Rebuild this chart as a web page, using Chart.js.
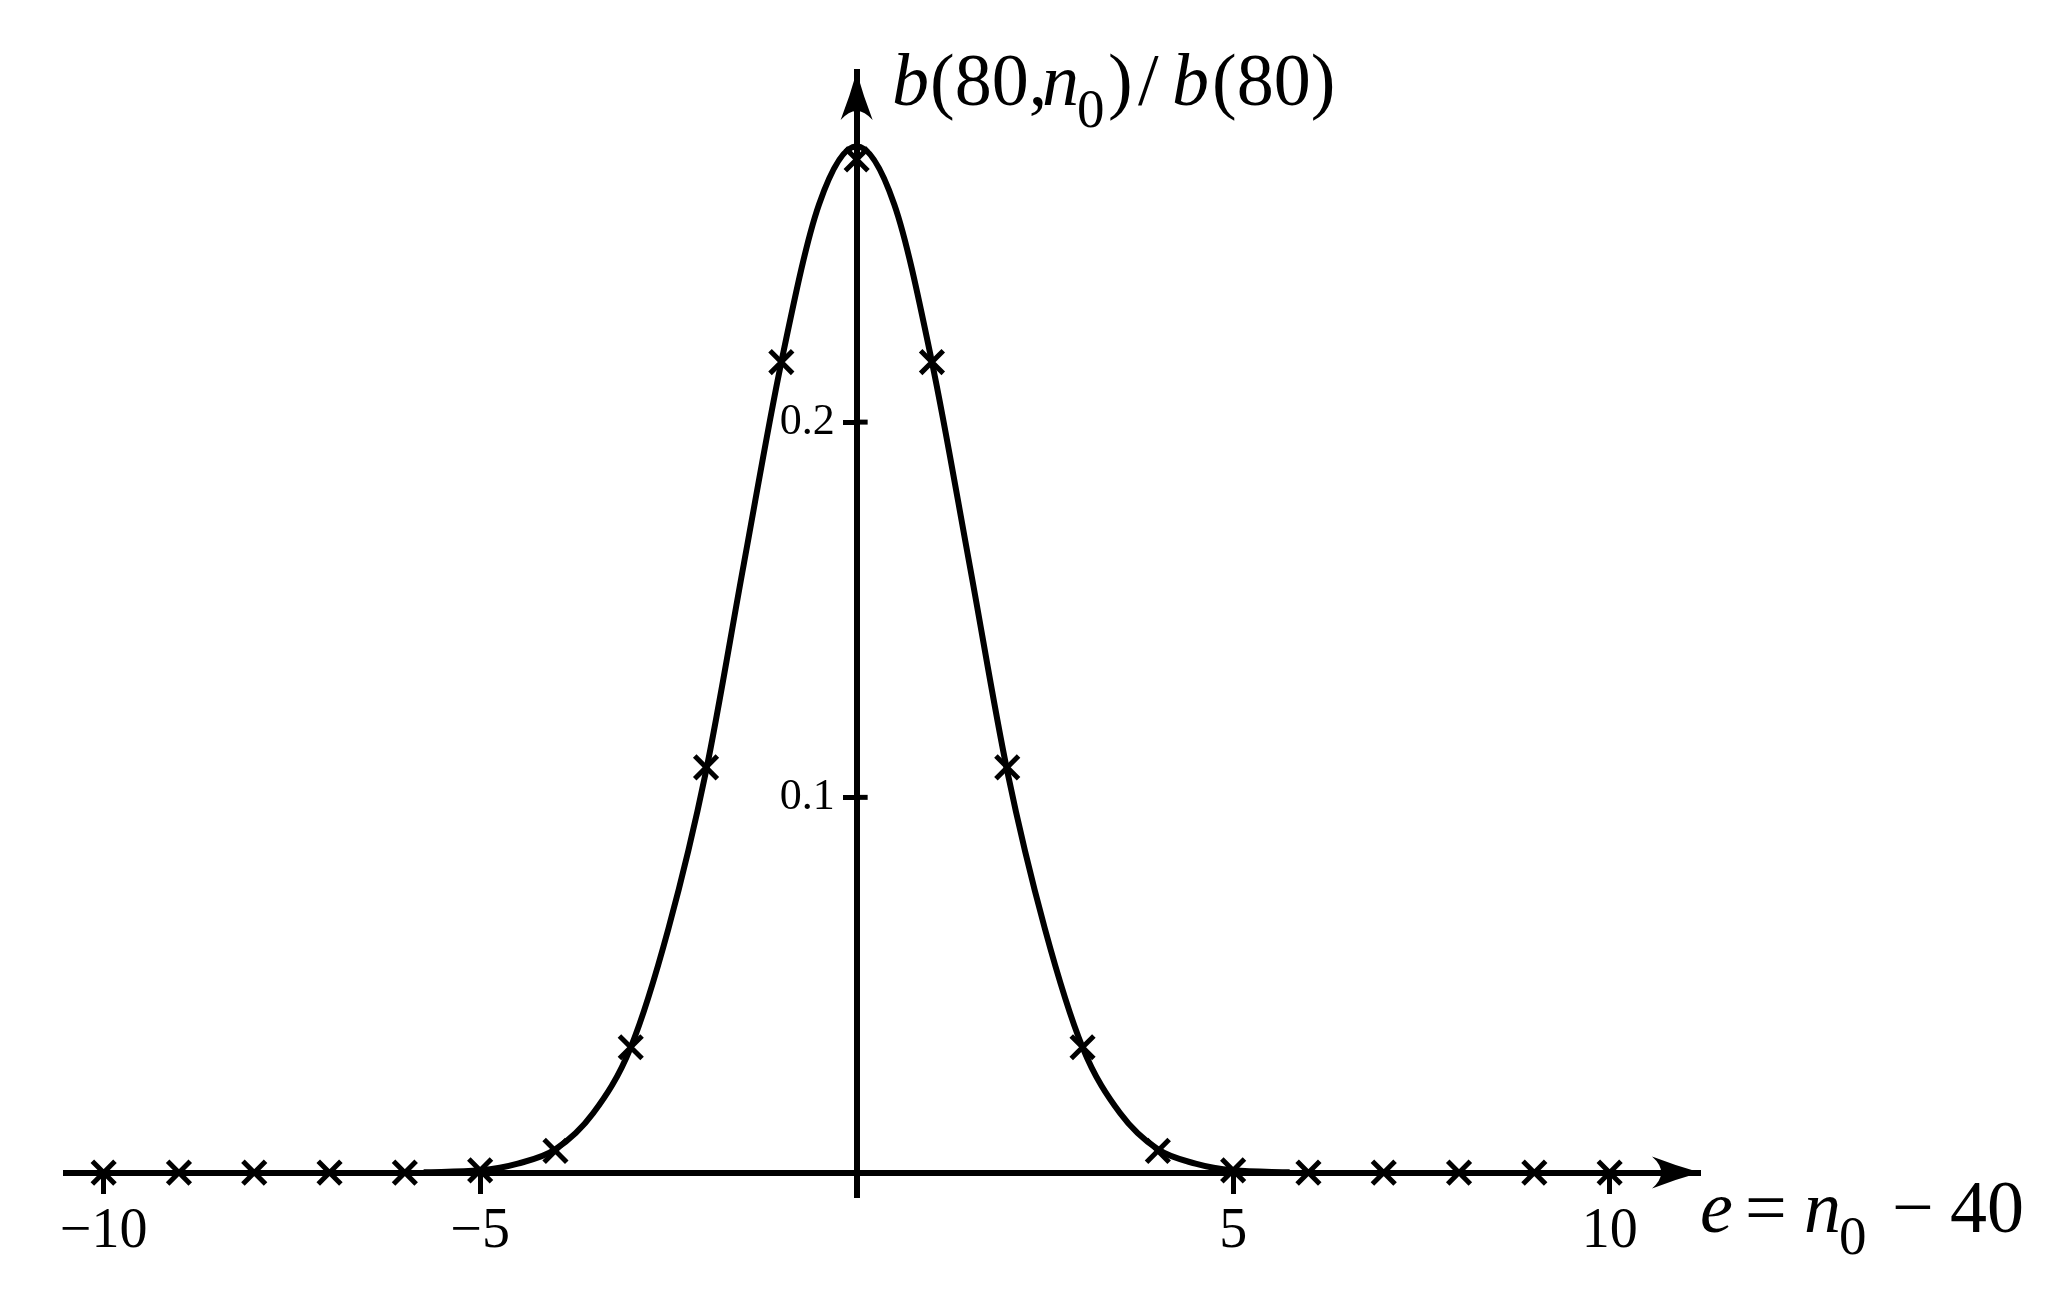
<!DOCTYPE html>
<html>
<head>
<meta charset="utf-8">
<script src="https://cdn.jsdelivr.net/npm/chart.js@4.4.0/dist/chart.umd.min.js"></script>
<style>
  html, body { margin: 0; padding: 0; background: #fff; }
  #myChart { display: block; }
</style>
</head>
<body>
<canvas id="myChart" width="2051" height="1306"></canvas>
<script>
// crosses: e = n0 - 40
const pointE = [-10, -9, -8, -7, -6, -5, -4, -3, -2, -1, 0, 1, 2, 3, 4, 5, 6, 7, 8, 9, 10];
const pointB = [0, 0, 0, 0, 0, 0.0006, 0.0058, 0.0334, 0.108, 0.216, 0.270, 0.216, 0.108, 0.0334, 0.0058, 0.0006, 0, 0, 0, 0, 0];

// smooth curve, read at half steps
const curveE = [-5.75, -5, -4.5, -4, -3.5, -3, -2.5, -2, -1.5, -1, -0.5, 0, 0.5, 1, 1.5, 2, 2.5, 3, 3.5, 4, 4.5, 5, 5.75];
const curveB = [0.0001, 0.0006, 0.0024, 0.0062, 0.0158, 0.0334, 0.065, 0.107, 0.162, 0.216, 0.258, 0.2735,
                0.258, 0.216, 0.162, 0.107, 0.065, 0.0334, 0.0158, 0.0062, 0.0024, 0.0006, 0.0001];

const xTicks = [-10, -5, 5, 10];
const yTicks = [0.1, 0.2];

// axis labels (it = italic, sub = subscript, dx = offset from label start)
const yLabel = [
  { t: 'b', it: true, dx: 0 },
  { t: '(80,', dx: 38 },
  { t: 'n', it: true, dx: 150 },
  { t: '0', sub: true, dx: 185 },
  { t: ')', dx: 216 },
  { t: '/', dx: 246 },
  { t: 'b', it: true, dx: 280 },
  { t: '(80)', dx: 320 }
];
const xLabel = [
  { t: 'e', it: true, dx: 0 },
  { t: '=', dx: 45 },
  { t: 'n', it: true, dx: 104 },
  { t: '0', sub: true, dx: 139 },
  { t: '\u2212', dx: 192 },
  { t: '40', dx: 250 }
];

const FONT = 'Liberation Serif';

function fmt(v) {
  return v < 0 ? '\u2212' + Math.abs(v) : String(v);
}

function drawMath(ctx, parts, x, y, size) {
  ctx.fillStyle = '#000';
  ctx.textBaseline = 'alphabetic';
  ctx.textAlign = 'left';
  parts.forEach(p => {
    const fs = p.sub ? Math.round(size * 0.74) : size;
    ctx.font = (p.it ? 'italic ' : '') + fs + 'px "' + FONT + '"';
    ctx.fillText(p.t, x + p.dx, y + (p.sub ? size * 0.3 : 0));
  });
}

function arrowHead(ctx, px, py, ang) {
  const L = 48, W = 16;
  ctx.save();
  ctx.translate(px, py);
  ctx.rotate(ang);
  ctx.beginPath();
  ctx.moveTo(0, 0);
  ctx.quadraticCurveTo(-L * 0.5, -W * 0.42, -L, -W);
  ctx.quadraticCurveTo(-L * 0.62, 0, -L, W);
  ctx.quadraticCurveTo(-L * 0.5, W * 0.42, 0, 0);
  ctx.closePath();
  ctx.fillStyle = '#000';
  ctx.fill();
  ctx.restore();
}

const axisExtras = {
  id: 'axisExtras',
  afterDraw(chart) {
    const { ctx, scales: { x, y } } = chart;
    const x0 = x.getPixelForValue(0);
    const y0 = y.getPixelForValue(0);
    // right half of the y ticks
    ctx.save();
    ctx.strokeStyle = '#000';
    ctx.lineWidth = 5;
    yTicks.forEach(v => {
      const py = y.getPixelForValue(v);
      ctx.beginPath();
      ctx.moveTo(x0, py);
      ctx.lineTo(x0 + 11, py);
      ctx.stroke();
    });
    ctx.restore();
    arrowHead(ctx, x.getPixelForValue(x.max), y0, 0);
    arrowHead(ctx, x0, y.getPixelForValue(y.max), -Math.PI / 2);
    drawMath(ctx, yLabel, 892, 105, 74);
    drawMath(ctx, xLabel, 1700, 1232, 74);
  }
};

const ctx = document.getElementById('myChart').getContext('2d');
window.myChart = new Chart(ctx, {
  type: 'scatter',
  data: {
    datasets: [
      {
        label: 'curve',
        data: curveE.map((e, i) => ({ x: e, y: curveB[i] })),
        showLine: true,
        borderColor: '#000',
        borderWidth: 6,
        pointRadius: 0,
        cubicInterpolationMode: 'monotone',
        fill: false
      },
      {
        label: 'b(80,n0)/b(80)',
        data: pointE.map((e, i) => ({ x: e, y: pointB[i] })),
        showLine: false,
        pointStyle: 'crossRot',
        pointRadius: 16,
        pointBorderWidth: 5,
        pointBorderColor: '#000',
        pointBackgroundColor: '#000'
      }
    ]
  },
  options: {
    responsive: false,
    animation: false,
    devicePixelRatio: 1,
    clip: false,
    layout: { padding: { left: 66, right: 351, top: 72, bottom: 109 } },
    plugins: {
      legend: { display: false },
      tooltip: { enabled: false }
    },
    scales: {
      x: {
        type: 'linear',
        min: -10.5,
        max: 11.2,
        position: { y: 0 },
        afterBuildTicks: s => { s.ticks = xTicks.map(v => ({ value: v })); },
        grid: { display: true, drawOnChartArea: false, drawTicks: true, tickLength: 18, tickWidth: 5, tickColor: '#000' },
        border: { display: true, color: '#000', width: 6 },
        ticks: {
          color: '#000',
          font: { family: FONT, size: 56 },
          padding: 8,
          autoSkip: false,
          maxRotation: 0,
          callback: v => fmt(v)
        }
      },
      y: {
        type: 'linear',
        min: -0.0065,
        max: 0.2933,
        position: { x: 0 },
        afterBuildTicks: s => { s.ticks = yTicks.map(v => ({ value: v })); },
        grid: { display: true, drawOnChartArea: false, drawTicks: true, tickLength: 11, tickWidth: 5, tickColor: '#000' },
        border: { display: true, color: '#000', width: 6 },
        ticks: {
          color: '#000',
          font: { family: FONT, size: 44 },
          autoSkip: false,
          callback: v => v.toFixed(1) + '\u2002'
        }
      }
    }
  },
  plugins: [axisExtras]
});
</script>
</body>
</html>
